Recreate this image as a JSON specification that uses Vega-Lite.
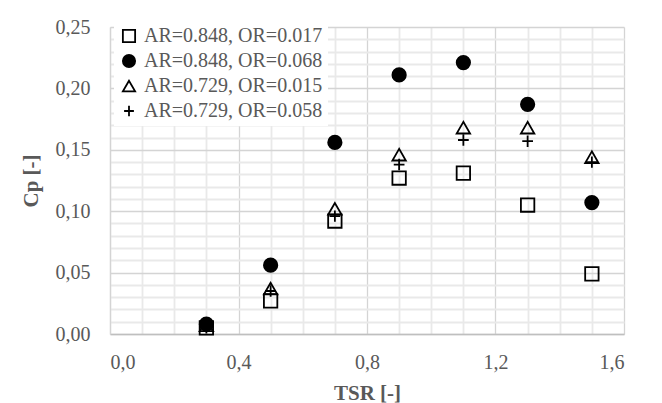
{
  "$schema": "https://vega.github.io/schema/vega-lite/v6.json",
  "width": 514,
  "height": 307,
  "autosize": {"type": "none"},
  "padding": {"left": 110, "top": 27, "right": 38, "bottom": 69},
  "background": "white",
  "config": {
    "view": {"stroke": null},
    "font": "Liberation Serif, Times New Roman, serif"
  },
  "data": {
    "values": [
      {"TSR": 0.3, "Cp": 0.005, "series": "AR=0.848, OR=0.017"},
      {"TSR": 0.5, "Cp": 0.027, "series": "AR=0.848, OR=0.017"},
      {"TSR": 0.7, "Cp": 0.092, "series": "AR=0.848, OR=0.017"},
      {"TSR": 0.9, "Cp": 0.127, "series": "AR=0.848, OR=0.017"},
      {"TSR": 1.1, "Cp": 0.131, "series": "AR=0.848, OR=0.017"},
      {"TSR": 1.3, "Cp": 0.105, "series": "AR=0.848, OR=0.017"},
      {"TSR": 1.5, "Cp": 0.049, "series": "AR=0.848, OR=0.017"},
      {"TSR": 0.3, "Cp": 0.008, "series": "AR=0.848, OR=0.068"},
      {"TSR": 0.5, "Cp": 0.056, "series": "AR=0.848, OR=0.068"},
      {"TSR": 0.7, "Cp": 0.156, "series": "AR=0.848, OR=0.068"},
      {"TSR": 0.9, "Cp": 0.211, "series": "AR=0.848, OR=0.068"},
      {"TSR": 1.1, "Cp": 0.221, "series": "AR=0.848, OR=0.068"},
      {"TSR": 1.3, "Cp": 0.187, "series": "AR=0.848, OR=0.068"},
      {"TSR": 1.5, "Cp": 0.107, "series": "AR=0.848, OR=0.068"},
      {"TSR": 0.3, "Cp": 0.007, "series": "AR=0.729, OR=0.015"},
      {"TSR": 0.5, "Cp": 0.037, "series": "AR=0.729, OR=0.015"},
      {"TSR": 0.7, "Cp": 0.102, "series": "AR=0.729, OR=0.015"},
      {"TSR": 0.9, "Cp": 0.146, "series": "AR=0.729, OR=0.015"},
      {"TSR": 1.1, "Cp": 0.168, "series": "AR=0.729, OR=0.015"},
      {"TSR": 1.3, "Cp": 0.168, "series": "AR=0.729, OR=0.015"},
      {"TSR": 1.5, "Cp": 0.144, "series": "AR=0.729, OR=0.015"},
      {"TSR": 0.3, "Cp": 0.005, "series": "AR=0.729, OR=0.058"},
      {"TSR": 0.5, "Cp": 0.035, "series": "AR=0.729, OR=0.058"},
      {"TSR": 0.7, "Cp": 0.096, "series": "AR=0.729, OR=0.058"},
      {"TSR": 0.9, "Cp": 0.138, "series": "AR=0.729, OR=0.058"},
      {"TSR": 1.1, "Cp": 0.158, "series": "AR=0.729, OR=0.058"},
      {"TSR": 1.3, "Cp": 0.157, "series": "AR=0.729, OR=0.058"},
      {"TSR": 1.5, "Cp": 0.140, "series": "AR=0.729, OR=0.058"}
    ]
  },
  "mark": {"type": "point", "size": 180, "strokeWidth": 1.8, "opacity": 1},
  "encoding": {
    "x": {
      "field": "TSR", "type": "quantitative",
      "scale": {"domain": [0, 1.6], "nice": false, "zero": false},
      "axis": {
        "orient": "bottom",
        "values": [0, 0.1, 0.2, 0.3, 0.4, 0.5, 0.6, 0.7, 0.8, 0.9, 1.0, 1.1, 1.2, 1.3, 1.4, 1.5, 1.6],
        "grid": true,
        "gridColor": {"condition": {"test": "round(datum.value * 10) % 4 === 0", "value": "#d4d4d4"}, "value": "#e9e9e9"},
        "gridWidth": {"condition": {"test": "round(datum.value * 10) % 4 === 0", "value": 1.3}, "value": 1.8},
        "labelExpr": "round(datum.value * 10) % 4 === 0 ? replace(format(datum.value, '.1f'), '.', ',') : ''",
        "labelFont": "Liberation Serif, Times New Roman, serif",
        "labelFontSize": 20, "labelColor": "#595959", "labelPadding": 18, "labelOverlap": false,
        "ticks": false, "domain": true, "domainColor": "#bfbfbf", "domainWidth": 1.5,
        "title": "TSR [-]", "titleFont": "Liberation Serif, Times New Roman, serif",
        "titleFontSize": 21, "titleFontWeight": "bold",
        "titleColor": "#595959", "titlePadding": 10
      }
    },
    "y": {
      "field": "Cp", "type": "quantitative",
      "scale": {"domain": [0, 0.25], "nice": false, "zero": false},
      "axis": {
        "orient": "left",
        "values": [0, 0.01, 0.02, 0.03, 0.04, 0.05, 0.06, 0.07, 0.08, 0.09, 0.1, 0.11, 0.12, 0.13, 0.14, 0.15, 0.16, 0.17, 0.18, 0.19, 0.2, 0.21, 0.22, 0.23, 0.24, 0.25],
        "grid": true,
        "gridColor": {"condition": {"test": "round(datum.value * 100) % 5 === 0", "value": "#d4d4d4"}, "value": "#e9e9e9"},
        "gridWidth": {"condition": {"test": "round(datum.value * 100) % 5 === 0", "value": 1.3}, "value": 1.8},
        "labelExpr": "round(datum.value * 100) % 5 === 0 ? replace(format(datum.value, '.2f'), '.', ',') : ''",
        "labelFont": "Liberation Serif, Times New Roman, serif",
        "labelFontSize": 20, "labelColor": "#595959", "labelPadding": 20, "labelOverlap": false,
        "ticks": false, "domain": true, "domainColor": "#d4d4d4", "domainWidth": 1.3,
        "title": "Cp [-]", "titleFont": "Liberation Serif, Times New Roman, serif",
        "titleFontSize": 21, "titleFontWeight": "bold",
        "titleColor": "#595959", "titlePadding": 14
      }
    },
    "shape": {
      "field": "series", "type": "nominal",
      "scale": {"domain": ["AR=0.848, OR=0.017", "AR=0.848, OR=0.068", "AR=0.729, OR=0.015", "AR=0.729, OR=0.058"],
        "range": ["square", "circle", "triangle-up", "M-0.8,0H0.8M0,-0.85V0.85"]},
      "legend": {"orient": "none", "legendX": 4, "legendY": -6, "padding": 5, "title": null,
        "labelFont": "Liberation Serif, Times New Roman, serif",
        "labelFontSize": 20, "labelColor": "#595959", "labelLimit": 400, "symbolSize": 150, "symbolStrokeWidth": 1.8,
        "rowPadding": 5, "labelOffset": 5, "fillColor": "white"}
    },
    "fill": {
      "field": "series", "type": "nominal",
      "scale": {"domain": ["AR=0.848, OR=0.017", "AR=0.848, OR=0.068", "AR=0.729, OR=0.015", "AR=0.729, OR=0.058"],
        "range": ["transparent", "black", "transparent", "transparent"]},
      "legend": {"orient": "none", "legendX": 4, "legendY": -6, "padding": 5, "title": null,
        "labelFont": "Liberation Serif, Times New Roman, serif",
        "labelFontSize": 20, "labelColor": "#595959", "labelLimit": 400, "symbolSize": 150, "symbolStrokeWidth": 1.8,
        "rowPadding": 5, "labelOffset": 5, "fillColor": "white"}
    },
    "stroke": {
      "field": "series", "type": "nominal",
      "scale": {"domain": ["AR=0.848, OR=0.017", "AR=0.848, OR=0.068", "AR=0.729, OR=0.015", "AR=0.729, OR=0.058"],
        "range": ["black", "black", "black", "black"]},
      "legend": {"orient": "none", "legendX": 4, "legendY": -6, "padding": 5, "title": null,
        "labelFont": "Liberation Serif, Times New Roman, serif",
        "labelFontSize": 20, "labelColor": "#595959", "labelLimit": 400, "symbolSize": 150, "symbolStrokeWidth": 1.8,
        "rowPadding": 5, "labelOffset": 5, "fillColor": "white"}
    }
  }
}
